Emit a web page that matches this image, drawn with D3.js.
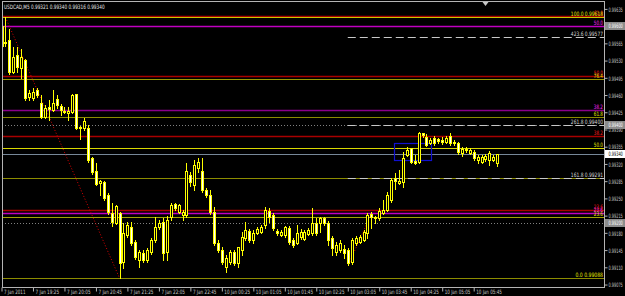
<!DOCTYPE html>
<html><head><meta charset="utf-8">
<script src="https://cdn.jsdelivr.net/npm/d3@7"></script>
<style>html,body{margin:0;padding:0;background:#000;overflow:hidden}svg{display:block}</style>
</head><body><svg id="c" width="625" height="296"></svg>
<script>
// ---------------- data ----------------
const title = "USDCAD,M5  0.99321 0.99340 0.99316 0.99340";
const open = [
0.99560,0.99567,0.99572,0.99507,0.99541,0.99515,0.99531,0.99456,0.99454,0.99470,
0.99444,0.99415,0.99436,0.99430,0.99452,0.99438,0.99428,0.99424,0.99426,0.99462,
0.99395,0.99393,0.99393,0.99332,0.99306,0.99282,0.99284,0.99257,0.99221,0.99200,
0.99221,0.99121,0.99176,0.99192,0.99162,0.99125,0.99139,0.99125,0.99141,0.99166,
0.99192,0.99202,0.99141,0.99212,0.99239,0.99223,0.99217,0.99217,0.99298,0.99277,
0.99311,0.99306,0.99267,0.99257,0.99223,0.99160,0.99145,0.99111,0.99121,0.99141,
0.99119,0.99145,0.99170,0.99184,0.99166,0.99180,0.99182,0.99196,0.99225,0.99217,
0.99184,0.99176,0.99176,0.99190,0.99166,0.99160,0.99172,0.99168,0.99178,0.99180,
0.99200,0.99200,0.99210,0.99200,0.99170,0.99141,0.99145,0.99148,0.99145,0.99121,
0.99160,0.99162,0.99166,0.99180,0.99219,0.99212,0.99210,0.99221,0.99227,0.99247,
0.99292,0.99282,0.99284,0.99338,0.99353,0.99326,0.99324,0.99383,0.99375,0.99363,
0.99373,0.99371,0.99369,0.99365,0.99377,0.99363,0.99363,0.99342,0.99351,0.99342,
0.99344,0.99328,0.99324,0.99330,0.99328,0.99328,0.99321];
const high = [
0.99606,0.99618,0.99594,0.99558,0.99558,0.99554,0.99533,0.99470,0.99474,0.99474,
0.99460,0.99440,0.99450,0.99470,0.99460,0.99442,0.99436,0.99436,0.99462,0.99462,
0.99397,0.99413,0.99399,0.99334,0.99322,0.99288,0.99286,0.99261,0.99241,0.99237,
0.99223,0.99200,0.99202,0.99202,0.99166,0.99145,0.99145,0.99150,0.99170,0.99212,
0.99206,0.99210,0.99215,0.99241,0.99241,0.99239,0.99227,0.99322,0.99304,0.99328,
0.99332,0.99332,0.99271,0.99267,0.99233,0.99166,0.99152,0.99135,0.99145,0.99145,
0.99152,0.99182,0.99202,0.99188,0.99186,0.99192,0.99196,0.99233,0.99231,0.99221,
0.99188,0.99186,0.99194,0.99194,0.99170,0.99196,0.99188,0.99186,0.99190,0.99231,
0.99210,0.99212,0.99212,0.99204,0.99174,0.99162,0.99166,0.99156,0.99150,0.99170,
0.99174,0.99176,0.99186,0.99221,0.99223,0.99215,0.99231,0.99247,0.99263,0.99292,
0.99302,0.99308,0.99344,0.99355,0.99353,0.99338,0.99385,0.99383,0.99381,0.99373,
0.99377,0.99373,0.99375,0.99377,0.99383,0.99369,0.99365,0.99355,0.99355,0.99353,
0.99348,0.99338,0.99338,0.99340,0.99346,0.99338,0.99340];
const low = [
0.99556,0.99560,0.99503,0.99505,0.99507,0.99495,0.99450,0.99450,0.99450,0.99456,
0.99413,0.99413,0.99409,0.99428,0.99434,0.99420,0.99424,0.99409,0.99424,0.99391,
0.99371,0.99389,0.99324,0.99300,0.99277,0.99257,0.99247,0.99219,0.99194,0.99198,
0.99088,0.99109,0.99172,0.99156,0.99127,0.99111,0.99121,0.99121,0.99137,0.99162,
0.99188,0.99125,0.99125,0.99206,0.99227,0.99221,0.99206,0.99212,0.99275,0.99267,
0.99304,0.99263,0.99253,0.99219,0.99156,0.99141,0.99117,0.99101,0.99117,0.99115,
0.99111,0.99135,0.99166,0.99162,0.99160,0.99178,0.99180,0.99190,0.99202,0.99186,
0.99176,0.99174,0.99172,0.99158,0.99152,0.99158,0.99168,0.99166,0.99176,0.99176,
0.99176,0.99182,0.99196,0.99156,0.99135,0.99135,0.99141,0.99129,0.99115,0.99117,
0.99156,0.99160,0.99164,0.99170,0.99190,0.99200,0.99206,0.99219,0.99225,0.99243,
0.99269,0.99279,0.99273,0.99336,0.99322,0.99320,0.99322,0.99375,0.99357,0.99361,
0.99359,0.99363,0.99361,0.99363,0.99359,0.99359,0.99340,0.99336,0.99344,0.99340,
0.99328,0.99322,0.99322,0.99326,0.99318,0.99326,0.99316];
const close = [
0.99600,0.99566,0.99507,0.99537,0.99517,0.99537,0.99454,0.99464,0.99466,0.99460,
0.99415,0.99434,0.99432,0.99444,0.99440,0.99430,0.99426,0.99428,0.99460,0.99393,
0.99393,0.99407,0.99328,0.99304,0.99279,0.99286,0.99251,0.99223,0.99202,0.99235,
0.99119,0.99180,0.99196,0.99160,0.99131,0.99141,0.99125,0.99145,0.99166,0.99192,
0.99200,0.99139,0.99206,0.99237,0.99231,0.99237,0.99223,0.99306,0.99284,0.99318,
0.99324,0.99267,0.99257,0.99223,0.99160,0.99145,0.99121,0.99129,0.99141,0.99119,
0.99152,0.99172,0.99186,0.99166,0.99180,0.99188,0.99192,0.99227,0.99212,0.99190,
0.99180,0.99182,0.99192,0.99162,0.99156,0.99180,0.99182,0.99182,0.99186,0.99200,
0.99180,0.99210,0.99200,0.99166,0.99150,0.99156,0.99160,0.99139,0.99119,0.99166,
0.99170,0.99172,0.99182,0.99217,0.99212,0.99210,0.99225,0.99227,0.99257,0.99288,
0.99286,0.99286,0.99332,0.99348,0.99324,0.99322,0.99383,0.99379,0.99359,0.99369,
0.99363,0.99367,0.99365,0.99373,0.99363,0.99365,0.99344,0.99351,0.99348,0.99348,
0.99332,0.99334,0.99334,0.99336,0.99342,0.99334,0.99340];

const timeTickBars = [0,8,16,24,32,40,48,56,64,72,80,88,96,104,112,120];
const timeTickLabels = ["7 Jan 2011","7 Jan 19:25","7 Jan 20:05","7 Jan 20:45","7 Jan 21:25",
 "7 Jan 22:05","7 Jan 22:45","10 Jan 00:25","10 Jan 01:05","10 Jan 01:45","10 Jan 02:25",
 "10 Jan 03:05","10 Jan 03:45","10 Jan 04:25","10 Jan 05:05","10 Jan 05:45"];
const priceTicks = [0.99075,0.99110,0.99145,0.99180,0.99215,0.99250,0.99285,0.99320,0.99355,
 0.99390,0.99425,0.99460,0.99495,0.99530,0.99565,0.99600,0.99635];

const hLines = [0.99600, 0.99400, 0.99200];
const bidPrice = 0.99340;

// Fibonacci retracements: anchors (0% and 100%) and levels
const fibLevels = [0, 23.6, 38.2, 50, 61.8, 76.4, 100];
const fibYellowAnchors = [0.99088, 0.99618];
const fibYellowColors = ["#8c8c00","#a4a400","#8c8c00","#d8d800","#8c8c00","#9a9a00","#c8c800"];
const fibRedAnchors = [0.98983, 1.00016];
const fibMagentaAnchors = [0.98882, 1.00317];
// Fibonacci expansion levels
const expLevels = [161.8, 261.8, 423.6];
const expPrices = [0.99291, 0.99400, 0.99577];
const expStartBar = 88;
// trend lines (bar index, price)
const trend1Bars = [1, 30], trend1Prices = [0.99618, 0.99088];
const trend2Bars = [88.5, 92.7], trend2Prices = [0.99121, 0.99196];
// rectangle
const boxBars = [99.8, 109.3], boxPrices = [0.99328, 0.99363];

// ---------------- drawing ----------------
const svg = d3.select("#c");
const L = 2, R = 604, T = 2, B = 287;
const x = d3.scaleLinear().domain([0, 126]).range([1.5, 497.3]);
const y = d3.scaleLinear().domain([0.99070, 0.99649]).range([B, T]);
const FONT = "DejaVu Sans";
const FS = 6;
const CW = 2.3;
const visible = v => v >= y.domain()[0] && v <= y.domain()[1];

svg.append("rect").attr("width",625).attr("height",296).attr("fill","#000");
svg.append("defs").append("clipPath").attr("id","clip")
  .append("rect").attr("x",L).attr("y",T).attr("width",R-L).attr("height",B-T);
const plot = svg.append("g").attr("clip-path","url(#clip)");
const labels = svg.append("g");

// text squeezed horizontally to a target width (by a scale transform)
function txt(g, px, py, s, color, anchor, cw) {
  const t = g.append("text").attr("x",0).attr("y",0).text(s)
    .attr("fill",color).attr("font-family",FONT).attr("font-size",FS+"px")
    .attr("text-anchor",anchor||"start");
  const w = t.node().getComputedTextLength();
  const sx = (s.length*(cw||CW)) / w;
  t.attr("transform",`translate(${px},${py}) scale(${sx},1)`);
  return t;
}
const cy = v => Math.round(y(v)) + 0.5;

// horizontal dotted lines
hLines.forEach(v => plot.append("line").attr("x1",L).attr("x2",R).attr("y1",cy(v)).attr("y2",cy(v))
  .attr("stroke","#808080").attr("stroke-dasharray","1,2"));

// fib retracement lines
function fib(anchors, colorFn, width, labelColor, labelFn) {
  fibLevels.forEach((lv,k) => {
    const v = anchors[0] + (anchors[1]-anchors[0])*lv/100;
    if (!visible(v)) return;
    const yy = cy(v);
    plot.append("line").attr("x1",L).attr("x2",R).attr("y1",yy).attr("y2",yy)
      .attr("stroke",colorFn(k)).attr("stroke-width",width);
    const s = labelFn(lv, v);
    if (s) txt(labels, R-1, yy-1.5, s, labelColor, "end");
  });
}
fib(fibRedAnchors, () => "#a80000", 1.3, "#ff1a1a", lv => lv.toFixed(1));
fib(fibMagentaAnchors, k => k===2 ? "#8a008a" : "#c000c0", 1.6, "#ff22ff", lv => lv.toFixed(1));
fib(fibYellowAnchors, k => fibYellowColors[k], 1.2, "#e8e800", (lv,v) =>
  (lv===0||lv===100) ? lv.toFixed(1)+"  "+v.toFixed(5) : (lv===38.2 ? null : lv.toFixed(1)));

// fib expansion
expLevels.forEach((lv,k) => {
  const yy = cy(expPrices[k]);
  plot.append("line").attr("x1",x(expStartBar)).attr("x2",R).attr("y1",yy).attr("y2",yy)
    .attr("stroke","#c8c8c8").attr("stroke-dasharray","8,4");
  txt(labels, R-1, yy-1.5, lv.toFixed(1)+"  "+expPrices[k].toFixed(5), "#d8d8d8", "end");
});

// bid line
plot.append("line").attr("x1",L).attr("x2",R).attr("y1",cy(bidPrice)).attr("y2",cy(bidPrice))
  .attr("stroke","#778899");

// trend lines
[[trend1Bars,trend1Prices],[trend2Bars,trend2Prices]].forEach(([b,p]) =>
  plot.append("line").attr("x1",x(b[0])).attr("x2",x(b[1])).attr("y1",y(p[0])).attr("y2",y(p[1]))
    .attr("stroke","#e00000").attr("stroke-dasharray","1,2"));

// rectangle
plot.append("rect").attr("x",Math.round(x(boxBars[0]))+0.5).attr("y",cy(boxPrices[1]))
  .attr("width",Math.round(x(boxBars[1])-x(boxBars[0]))).attr("height",Math.round(y(boxPrices[0])-y(boxPrices[1])))
  .attr("fill","none").attr("stroke","#1010d0").attr("stroke-width",1.2);

// candles
const cg = plot.append("g");
open.forEach((o,i) => {
  const c = close[i], cx = Math.round(x(i));
  cg.append("line").attr("x1",cx+0.5).attr("x2",cx+0.5).attr("y1",Math.round(y(high[i]))).attr("y2",Math.round(y(low[i]))+1)
    .attr("stroke","#ffff00");
  const top = Math.round(y(Math.max(o,c))), bot = Math.round(y(Math.min(o,c)));
  if (bot - top < 1) {
    cg.append("line").attr("x1",cx-1).attr("x2",cx+2).attr("y1",top+0.5).attr("y2",top+0.5).attr("stroke", c>=o ? "#ffff00" : "#ffffff");
  } else {
    cg.append("rect").attr("x",cx-0.5).attr("y",top+0.5).attr("width",2).attr("height",bot-top)
      .attr("fill", c>=o ? "#000" : "#fff").attr("stroke","#ffff00").attr("stroke-width",1);
  }
});

// frame
svg.append("rect").attr("x",L+0.5).attr("y",T-0.5).attr("width",R-L).attr("height",B-T+1)
  .attr("fill","none").attr("stroke","#b4b4b4");
// shift marker
svg.append("path").attr("d",`M${x(123)-3},${T} L${x(123)+3},${T} L${x(123)},${T+4} Z`).attr("fill","#c8c8c8");

// squeeze helper for axis texts
function squeeze(sel, perChar, dx, dy) {
  sel.each(function(){
    const t = d3.select(this);
    const s = t.text();
    t.attr("x",0).attr("y",0).attr("dy",null).attr("font-family",FONT).attr("font-size",FS+"px");
    const w = this.getComputedTextLength();
    t.attr("transform",`translate(${dx},${dy}) scale(${(s.length*perChar)/w},1)`);
  });
}

// right price axis
const ya = svg.append("g").attr("transform",`translate(${R+0.5},0)`)
  .call(d3.axisRight(y).tickValues(priceTicks).tickFormat(d3.format(".5f")).tickSize(3).tickPadding(1));
ya.select(".domain").remove();
ya.selectAll("line").attr("stroke","#b4b4b4");
ya.selectAll("text").attr("fill","#c8c8c8");
squeeze(ya.selectAll("text"), 2.05, 4, 2.2);

// highlighted price labels
function priceTag(v, bg, fg) {
  const yy = Math.round(y(v));
  svg.append("rect").attr("x",R+1).attr("y",yy-4).attr("width",20).attr("height",8).attr("fill",bg);
  txt(svg, R+4.5, yy+2.2, v.toFixed(5), fg, "start", 2.05);
}
hLines.forEach(v => priceTag(v, "#8c8c8c", "#ffffff"));
priceTag(bidPrice, "#ffffff", "#000000");

// bottom time axis
const xa = svg.append("g").attr("transform",`translate(0,${B+0.5})`)
  .call(d3.axisBottom(x).tickValues(timeTickBars).tickFormat((d,i)=>timeTickLabels[i]).tickSize(4).tickPadding(1));
xa.select(".domain").remove();
xa.selectAll("line").attr("stroke","#b4b4b4");
xa.selectAll("text").attr("fill","#c8c8c8").attr("text-anchor","start");
squeeze(xa.selectAll("text"), 2.15, 2, 6.5);

// title
txt(svg, 4, 8.5, title, "#e6e6e6", "start", 2.4);
</script></body></html>
